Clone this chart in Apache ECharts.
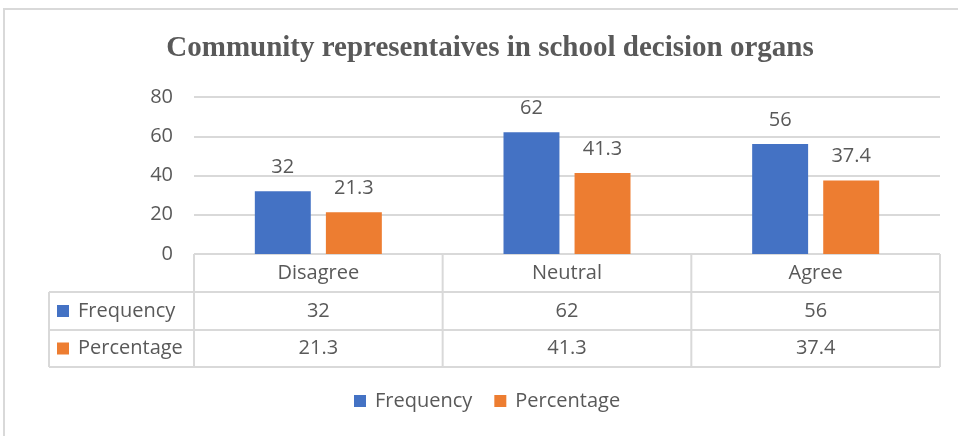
<!DOCTYPE html>
<html>
<head>
<meta charset="utf-8">
<script src="https://cdn.jsdelivr.net/npm/echarts@6/dist/echarts.min.js"></script>
<style>
  html, body { margin: 0; padding: 0; background: #fff; }
  #chart { width: 958px; height: 436px; }
</style>
</head>
<body>
<div id="chart"></div>
<script>
var categories = ['Disagree', 'Neutral', 'Agree']
var frequency = [32, 62, 56]
var percentage = [21.3, 41.3, 37.4]
var seriesNames = ['Frequency', 'Percentage']
var yTicks = [0, 20, 40, 60, 80]

var textColor = '#595959'
var lineColor = '#d9d9d9'
var colors = ['#4472C4', '#ED7D31']
var font = 'Open Sans'

var chart = echarts.init(document.getElementById('chart'))

var gridLeft = 194
var gridRight = 940
var axisY = 254
var rowY = [254, 292, 330, 367]
var tableLeft = 49

chart.setOption({
  animation: false,
  color: colors,
  title: {
    text: 'Community representaives in school decision organs',
    left: 485,
    textAlign: 'center',
    top: 29,
    textStyle: {
      fontFamily: 'Liberation Serif',
      fontWeight: 'bold',
      fontSize: 29,
      color: textColor
    }
  },
  legend: {
    data: seriesNames,
    bottom: 20,
    left: 349,
    icon: 'rect',
    itemWidth: 12,
    itemHeight: 12,
    itemGap: 22,
    textStyle: { fontFamily: font, fontSize: 20, color: textColor, padding: [0, 0, 0, 4] }
  },
  grid: {
    left: gridLeft,
    right: 958 - gridRight,
    top: 97,
    bottom: 436 - axisY
  },
  xAxis: {
    type: 'category',
    data: categories,
    axisLine: { show: false },
    axisTick: { show: false },
    axisLabel: { show: false }
  },
  yAxis: {
    type: 'value',
    min: yTicks[0],
    max: yTicks[yTicks.length - 1],
    interval: 20,
    axisLine: { show: false },
    axisTick: { show: false },
    axisLabel: { fontFamily: font, fontSize: 20, color: textColor, margin: 21 },
    splitLine: { lineStyle: { color: lineColor, width: 2 } }
  },
  series: [
    {
      name: seriesNames[0],
      type: 'bar',
      data: frequency,
      barWidth: '22.5%',
      barGap: '27%',
      label: { show: true, position: 'top', distance: 14, fontFamily: font, fontSize: 20, color: textColor }
    },
    {
      name: seriesNames[1],
      type: 'bar',
      data: percentage,
      barWidth: '22.5%',
      label: { show: true, position: 'top', distance: 14, fontFamily: font, fontSize: 20, color: textColor }
    }
  ]
})

// data table under the axis
var graphics = []
var lineStyle = { stroke: lineColor, lineWidth: 2 }
graphics.push({ type: 'rect', shape: { x: 4, y: 9, width: 1000, height: 500 }, style: { fill: null, stroke: lineColor, lineWidth: 2 }, silent: true })
graphics.push({ type: 'line', shape: { x1: gridLeft, y1: rowY[0], x2: gridRight, y2: rowY[0] }, style: lineStyle })
for (var r = 1; r < rowY.length; r++) {
  graphics.push({ type: 'line', shape: { x1: tableLeft, y1: rowY[r], x2: gridRight, y2: rowY[r] }, style: lineStyle })
}
graphics.push({ type: 'line', shape: { x1: tableLeft, y1: rowY[1], x2: tableLeft, y2: rowY[3] }, style: lineStyle })
var bandW = (gridRight - gridLeft) / categories.length
for (var c = 0; c <= categories.length; c++) {
  var x = gridLeft + bandW * c
  graphics.push({ type: 'line', shape: { x1: x, y1: rowY[0], x2: x, y2: rowY[3] }, style: lineStyle })
}
var rows = [categories, frequency, percentage]
for (var i = 0; i < categories.length; i++) {
  var cx = chart.convertToPixel({ xAxisIndex: 0 }, categories[i])
  for (var k = 0; k < rows.length; k++) {
    graphics.push({
      type: 'text',
      x: cx,
      y: (rowY[k] + rowY[k + 1]) / 2,
      style: { text: String(rows[k][i]), fontFamily: font, fontSize: 20, fill: textColor, align: 'center', verticalAlign: 'middle' }
    })
  }
}
for (var s = 0; s < seriesNames.length; s++) {
  var my = (rowY[s + 1] + rowY[s + 2]) / 2
  graphics.push({ type: 'rect', shape: { x: 57, y: my - 6, width: 12, height: 12 }, style: { fill: colors[s] } })
  graphics.push({
    type: 'text',
    x: 78,
    y: my,
    style: { text: seriesNames[s], fontFamily: font, fontSize: 20, fill: textColor, align: 'left', verticalAlign: 'middle' }
  })
}
chart.setOption({ graphic: graphics })
</script>
</body>
</html>
